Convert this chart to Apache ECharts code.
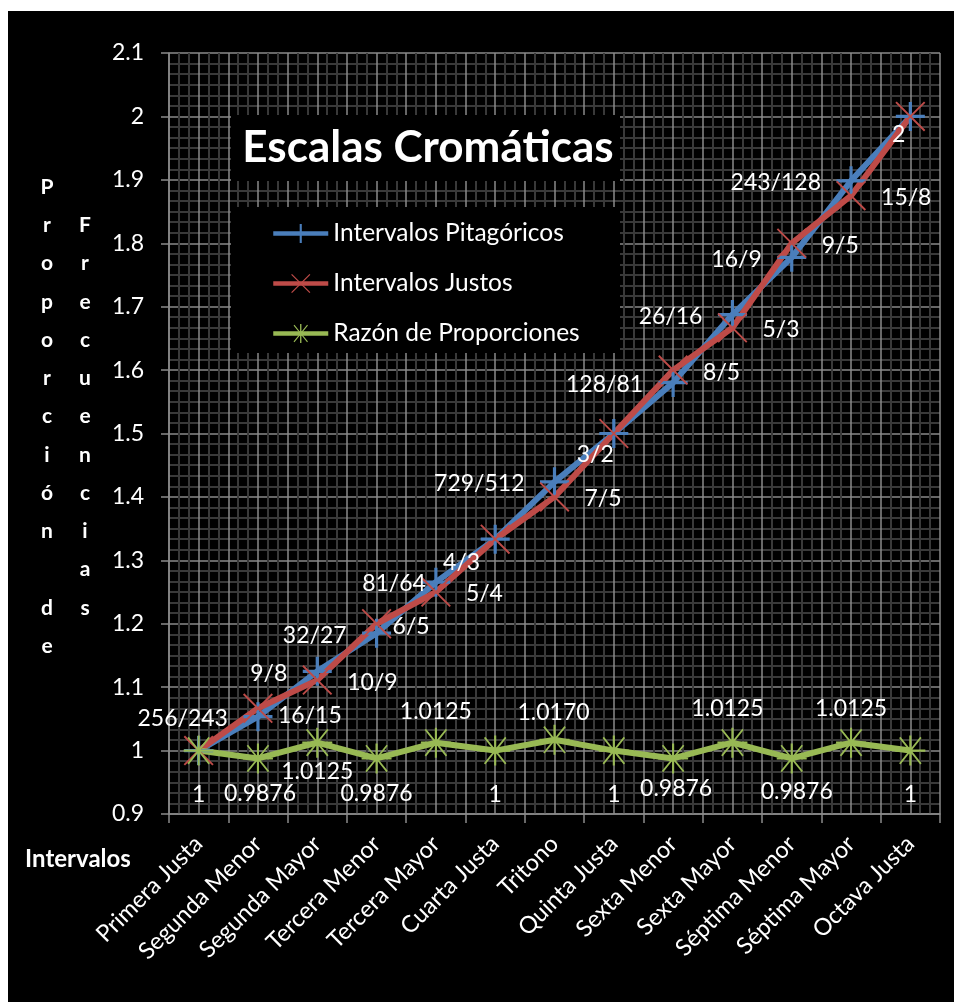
<!DOCTYPE html>
<html lang="es">
<head>
<meta charset="utf-8">
<title>Escalas Cromáticas</title>
<script src="https://cdn.jsdelivr.net/npm/echarts@6/dist/echarts.min.js"></script>
<style>
  html, body { margin: 0; padding: 0; background: #ffffff; }
  #chart { position: absolute; left: 8px; top: 11px; width: 946px; height: 991px; background: #000000; }
</style>
</head>
<body>
<div id="chart"></div>
<script>
// Intervalos de la escala cromática
const categorias = ['Primera Justa', 'Segunda Menor', 'Segunda Mayor', 'Tercera Menor', 'Tercera Mayor',
  'Cuarta Justa', 'Tritono', 'Quinta Justa', 'Sexta Menor', 'Sexta Mayor', 'Séptima Menor',
  'Séptima Mayor', 'Octava Justa'];

// Afinación pitagórica
const pitagoricos = [1, 256 / 243, 9 / 8, 32 / 27, 81 / 64, 4 / 3, 729 / 512, 3 / 2, 128 / 81, 27 / 16, 16 / 9, 243 / 128, 2];
const pitagoricosEtiquetas = ['', '256/243', '9/8', '32/27', '81/64', '4/3', '729/512', '3/2', '128/81', '26/16', '16/9', '243/128', '2'];

// Entonación justa
const justos = [1, 16 / 15, 10 / 9, 6 / 5, 5 / 4, 4 / 3, 7 / 5, 3 / 2, 8 / 5, 5 / 3, 9 / 5, 15 / 8, 2];
const justosEtiquetas = ['', '16/15', '10/9', '6/5', '5/4', '', '7/5', '', '8/5', '5/3', '9/5', '15/8', ''];

// Razón entre ambas proporciones
const razon = [1, 0.9876, 1.0125, 0.9876, 1.0125, 1, 1.0170, 1, 0.9876, 1.0125, 0.9876, 1.0125, 1];
const razonEtiquetas = ['1', '0.9876', '1.0125', '0.9876', '1.0125', '1', '1.0170', '1', '0.9876', '1.0125', '0.9876', '1.0125', '1'];

// Eje vertical
const yMin = 0.9;
const yMax = 2.1;
const yPaso = 0.1;

const tituloGrafico = 'Escalas Cromáticas';
const tituloX = 'Intervalos';
const tituloY1 = 'Proporción de';
const tituloY2 = 'Frecuencias';

// Desplazamiento de las etiquetas respecto a cada marcador
const desplazPitag = { 4: [-10, 1], 5: [-15, 23], 7: [0, 21], 12: [-5, 18] };
const desplazJustos = { 1: [20, 7], 3: [16, 3] };
const desplazRazon = [[0, 44], [2, 35], [0, 29], [0, 35], [0, -31], [0, 44], [-1, -27],
  [0, 44], [3, 30], [-5, -34], [5, 33], [0, -34], [0, 44]];

const FUENTE = 'Lato, "Open Sans", sans-serif';
const BLANCO = '#ffffff';
const GRIS = '#8a8a8a';
const GRIS_OSCURO = '#393939';

// Marcadores dibujados como trazos
const SIMB_MAS = 'path://M0,8.9 L20,8.9 L20,11.1 L0,11.1 Z M8.9,0 L11.1,0 L11.1,20 L8.9,20 Z';
const SIMB_EQUIS = 'path://M0,0.9 L0.9,0 L20,19.1 L19.1,20 Z M19.1,0 L20,0.9 L0.9,20 L0,19.1 Z';
const SIMB_ASTER = 'path://M0,9.3 L20,9.3 L20,10.7 L0,10.7 Z M9.3,0 L10.7,0 L10.7,20 L9.3,20 Z ' +
  'M2.5,1.6 L3.4,0.8 L17.5,18.4 L16.6,19.2 Z M16.6,0.8 L17.5,1.6 L3.4,19.2 L2.5,18.4 Z';

function etiquetaBase(align) {
  return {
    show: true,
    position: 'inside',
    align: align,
    verticalAlign: 'middle',
    color: BLANCO,
    fontSize: 23,
    fontFamily: FUENTE
  };
}

const datosPitag = pitagoricos.map((v, i) => ({
  value: v,
  label: { offset: desplazPitag[i] || [-30, 2] }
}));
const datosJustos = justos.map((v, i) => ({
  value: v,
  label: { offset: desplazJustos[i] || [30, 2] }
}));
const datosRazon = razon.map((v, i) => ({
  value: v,
  label: { offset: desplazRazon[i] }
}));

const columna = s => s.split('').join('\n');

const chart = echarts.init(document.getElementById('chart'), null, { renderer: 'canvas' });

chart.setOption({
  backgroundColor: '#000000',
  animation: false,
  textStyle: { fontFamily: FUENTE },
  grid: { left: 161, top: 42, right: 14, bottom: 188, containLabel: false },
  xAxis: [
    {
      type: 'category',
      data: categorias,
      boundaryGap: true,
      axisLine: { show: true, lineStyle: { color: GRIS, width: 1.5 } },
      axisTick: { show: true, length: 9, lineStyle: { color: GRIS, width: 1.5 } },
      axisLabel: { rotate: 45, margin: 26, color: BLANCO, fontSize: 23.5, fontFamily: FUENTE },
      splitLine: { show: false },
      z: 1
    },
    {
      // Rejilla vertical: líneas a cada media categoría con subdivisiones
      type: 'value',
      min: 0,
      max: 26,
      interval: 1,
      position: 'bottom',
      axisLine: { show: false },
      axisTick: { show: false },
      axisLabel: { show: false },
      splitLine: { show: true, lineStyle: { color: GRIS, width: 1.5 } },
      minorTick: { show: false, splitNumber: 3 },
      minorSplitLine: { show: true, lineStyle: { color: GRIS_OSCURO, width: 2 } }
    }
  ],
  yAxis: {
    type: 'value',
    min: yMin,
    max: yMax,
    interval: yPaso,
    axisLine: { show: true, lineStyle: { color: GRIS, width: 1.5 } },
    axisTick: { show: true, length: 8, lineStyle: { color: GRIS, width: 1.5 } },
    axisLabel: {
      color: BLANCO, fontSize: 23, fontFamily: FUENTE, margin: 25,
      formatter: v => String(Math.round(v * 10) / 10)
    },
    splitLine: { show: true, lineStyle: { color: GRIS, width: 1.5 } },
    minorTick: { show: false, splitNumber: 6 },
    minorSplitLine: { show: true, lineStyle: { color: GRIS_OSCURO, width: 2 } }
  },
  legend: {
    orient: 'vertical',
    left: 263,
    top: 210,
    padding: 0,
    itemWidth: 55,
    itemHeight: 24,
    itemGap: 25,
    z: 10,
    lineStyle: { width: 4.5 },
    textStyle: { color: BLANCO, fontSize: 24.5, lineHeight: 24, fontFamily: FUENTE },
    data: ['Intervalos Pitagóricos', 'Intervalos Justos', 'Razón de Proporciones']
  },
  graphic: [
    { type: 'rect', z: 3, shape: { x: 223, y: 104, width: 389, height: 66 }, style: { fill: '#000000' } },
    { type: 'rect', z: 3, shape: { x: 223, y: 196, width: 389, height: 146 }, style: { fill: '#000000' } },
    {
      type: 'text', z: 11, x: 420, y: 137,
      style: { text: tituloGrafico, fill: BLANCO, font: 'bold 44px ' + FUENTE, textAlign: 'center', textVerticalAlign: 'middle' }
    },
    {
      type: 'text', z: 11, x: 70, y: 848,
      style: { text: tituloX, fill: BLANCO, font: 'bold 24px ' + FUENTE, textAlign: 'center', textVerticalAlign: 'middle' }
    },
    {
      type: 'text', z: 11, x: 39, y: 157,
      style: { text: columna(tituloY1), fill: BLANCO, font: 'bold 21px ' + FUENTE, lineHeight: 38.25, textAlign: 'center', textVerticalAlign: 'top' }
    },
    {
      type: 'text', z: 11, x: 77, y: 195.25,
      style: { text: columna(tituloY2), fill: BLANCO, font: 'bold 21px ' + FUENTE, lineHeight: 38.25, textAlign: 'center', textVerticalAlign: 'top' }
    }
  ],
  series: [
    {
      name: 'Intervalos Pitagóricos',
      type: 'line',
      xAxisIndex: 0,
      data: datosPitag,
      symbol: SIMB_MAS,
      symbolSize: 29,
      showAllSymbol: true,
      lineStyle: { color: '#4a7ebb', width: 6 },
      itemStyle: { color: '#4a7ebb' },
      label: Object.assign(etiquetaBase('right'), { formatter: p => pitagoricosEtiquetas[p.dataIndex] }),
      z: 2
    },
    {
      name: 'Intervalos Justos',
      type: 'line',
      xAxisIndex: 0,
      data: datosJustos,
      symbol: SIMB_EQUIS,
      symbolSize: 30,
      showAllSymbol: true,
      lineStyle: { color: '#be4b48', width: 6 },
      itemStyle: { color: '#be4b48' },
      label: Object.assign(etiquetaBase('left'), { formatter: p => justosEtiquetas[p.dataIndex] }),
      z: 2
    },
    {
      name: 'Razón de Proporciones',
      type: 'line',
      xAxisIndex: 0,
      data: datosRazon,
      symbol: SIMB_ASTER,
      symbolSize: 30,
      showAllSymbol: true,
      lineStyle: { color: '#98b954', width: 6 },
      itemStyle: { color: '#98b954' },
      label: Object.assign(etiquetaBase('center'), { formatter: p => razonEtiquetas[p.dataIndex] }),
      z: 2
    }
  ]
});
</script>
</body>
</html>
